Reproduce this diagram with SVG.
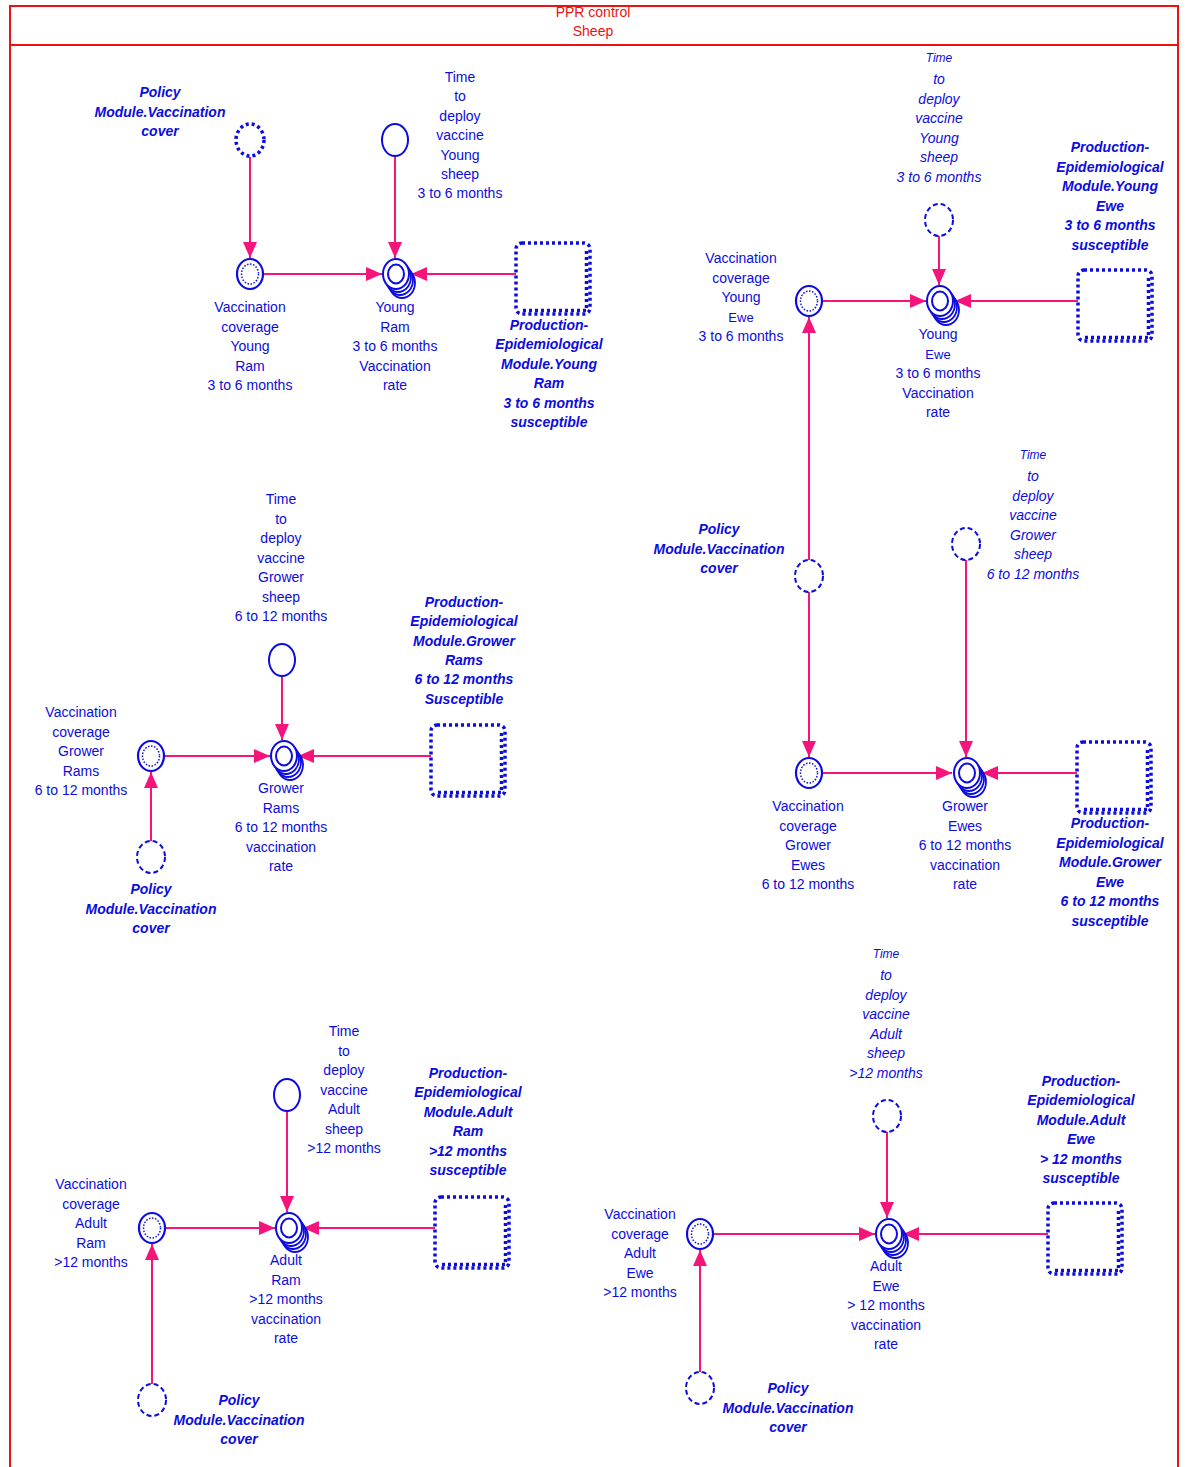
<svg xmlns="http://www.w3.org/2000/svg" xmlns:xlink="http://www.w3.org/1999/xlink" width="1186" height="1467" viewBox="0 0 1186 1467">
<style>
text{font-family:"Liberation Sans",Arial,sans-serif;font-size:14px;fill:#0c0ce0;text-anchor:middle}
.b{font-weight:bold;font-style:italic}
.i{font-style:italic}
.sm{font-size:12px}
.hdr{fill:#ee1111;font-size:14px}
.ln{stroke:#f5157a;stroke-width:2;fill:none;marker-end:url(#ah)}
.sh{stroke:#0c0ce0;fill:#fff}
</style>
<defs>
<marker id="ah" viewBox="0 0 16 14" refX="16" refY="7" markerWidth="16" markerHeight="14" markerUnits="userSpaceOnUse" orient="auto">
<path d="M0,0 L16,7 L0,14 z" fill="#f5157a"/>
</marker>
<g id="vc">
<ellipse class="sh" rx="13" ry="15" stroke-width="2.2"/>
<ellipse class="sh" rx="8.5" ry="10" stroke-width="1.5" stroke-dasharray="1.5 1.6"/>
</g>
<g id="rate">
<ellipse class="sh" cx="6" cy="9" rx="13" ry="15" stroke-width="1.8"/>
<ellipse class="sh" cx="4" cy="6" rx="13" ry="15" stroke-width="1.8"/>
<ellipse class="sh" cx="2" cy="3" rx="13" ry="15" stroke-width="1.8"/>
<ellipse class="sh" rx="13" ry="15" stroke-width="2"/>
<ellipse class="sh" rx="8" ry="9.5" stroke-width="2"/>
</g>
<g id="tsolid"><ellipse class="sh" rx="13" ry="16" stroke-width="2"/></g>
<g id="tdash"><ellipse class="sh" rx="14" ry="16" stroke-width="2" stroke-dasharray="5 3"/></g>
<g id="tdot"><ellipse class="sh" rx="14" ry="16" stroke-width="3.5" stroke-dasharray="3 3"/></g>
<g id="stock">
<rect x="0" y="0" width="74" height="71" rx="6" fill="#fff" stroke="#0c0ce0" stroke-width="3.5" stroke-dasharray="3 3"/>
<path d="M70.5,5 L70.5,67.5 L4,67.5" fill="none" stroke="#0c0ce0" stroke-width="3.5" stroke-dasharray="3 3" stroke-dashoffset="3"/>
</g>
</defs>

<g id="frame">
<rect x="10" y="6" width="1168" height="1475" fill="none" stroke="#ee1111" stroke-width="2"/>
<line x1="10" y1="45" x2="1178" y2="45" stroke="#ee1111" stroke-width="2"/>
<text class="hdr" x="593" y="17">PPR control</text>
<text class="hdr" x="593" y="36">Sheep</text>
</g>

<g id="connectors">
<path class="ln" d="M250,157 L250,258"/>
<path class="ln" d="M395,156 L395,258"/>
<path class="ln" d="M263,274 L382,274"/>
<path class="ln" d="M516,274 L411,274"/>

<path class="ln" d="M939,236 L939,285"/>
<path class="ln" d="M822,301 L926,301"/>
<path class="ln" d="M1078,301 L955,301"/>
<path class="ln" d="M809,560 L809,317"/>

<path class="ln" d="M809,592 L809,757"/>
<path class="ln" d="M966,560 L966,757"/>
<path class="ln" d="M822,773 L952,773"/>
<path class="ln" d="M1077,773 L982,773"/>

<path class="ln" d="M282,676 L282,740"/>
<path class="ln" d="M164,756 L270,756"/>
<path class="ln" d="M431,756 L298,756"/>
<path class="ln" d="M151,841 L151,772"/>

<path class="ln" d="M287,1111 L287,1212"/>
<path class="ln" d="M165,1228 L275,1228"/>
<path class="ln" d="M435,1228 L303,1228"/>
<path class="ln" d="M152,1384 L152,1244"/>

<path class="ln" d="M887,1132 L887,1218"/>
<path class="ln" d="M713,1234 L875,1234"/>
<path class="ln" d="M1048,1234 L903,1234"/>
<path class="ln" d="M700,1372 L700,1250"/>
</g>

<!-- Module: Young Ram -->
<g id="policy-young-ram">
<use xlink:href="#tdot" x="250" y="140"/>
<text class="b" x="160" y="97">Policy<tspan x="160" dy="19.5">Module.Vaccination</tspan><tspan x="160" dy="19.5">cover</tspan></text>
</g>
<g id="vc-young-ram">
<use xlink:href="#vc" x="250" y="274"/>
<text x="250" y="312">Vaccination<tspan x="250" dy="19.5">coverage</tspan><tspan x="250" dy="19.5">Young</tspan><tspan x="250" dy="19.5">Ram</tspan><tspan x="250" dy="19.5">3 to 6 months</tspan></text>
</g>
<g id="time-young-ram">
<use xlink:href="#tsolid" x="395" y="140"/>
<text x="460" y="82">Time<tspan x="460" dy="19.4">to</tspan><tspan x="460" dy="19.4">deploy</tspan><tspan x="460" dy="19.4">vaccine</tspan><tspan x="460" dy="19.4">Young</tspan><tspan x="460" dy="19.4">sheep</tspan><tspan x="460" dy="19.4">3 to 6 months</tspan></text>
</g>
<g id="rate-young-ram">
<use xlink:href="#rate" x="396" y="274"/>
<text x="395" y="312">Young<tspan x="395" dy="19.5">Ram</tspan><tspan x="395" dy="19.5">3 to 6 months</tspan><tspan x="395" dy="19.5">Vaccination</tspan><tspan x="395" dy="19.5">rate</tspan></text>
</g>
<g id="stock-young-ram">
<use xlink:href="#stock" x="516" y="243"/>
<text class="b" x="549" y="330">Production-<tspan x="549" dy="19.4">Epidemiological</tspan><tspan x="549" dy="19.4">Module.Young</tspan><tspan x="549" dy="19.4">Ram</tspan><tspan x="549" dy="19.4">3 to 6 months</tspan><tspan x="549" dy="19.4">susceptible</tspan></text>
</g>

<!-- Module: Young Ewe -->
<g id="time-young-ewe">
<use xlink:href="#tdash" x="939" y="220"/>
<text class="i sm" x="939" y="62">Time</text>
<text class="i" x="939" y="84">to<tspan x="939" dy="19.5">deploy</tspan><tspan x="939" dy="19.5">vaccine</tspan><tspan x="939" dy="19.5">Young</tspan><tspan x="939" dy="19.5">sheep</tspan><tspan x="939" dy="19.5">3 to 6 months</tspan></text>
</g>
<g id="vc-young-ewe">
<use xlink:href="#vc" x="809" y="301"/>
<text x="741" y="263">Vaccination<tspan x="741" dy="19.5">coverage</tspan><tspan x="741" dy="19.5">Young</tspan><tspan x="741" dy="19.5" font-size="13">Ewe</tspan><tspan x="741" dy="19.5">3 to 6 months</tspan></text>
</g>
<g id="rate-young-ewe">
<use xlink:href="#rate" x="940" y="301"/>
<text x="938" y="339">Young<tspan x="938" dy="19.5" font-size="13">Ewe</tspan><tspan x="938" dy="19.5">3 to 6 months</tspan><tspan x="938" dy="19.5">Vaccination</tspan><tspan x="938" dy="19.5">rate</tspan></text>
</g>
<g id="stock-young-ewe">
<use xlink:href="#stock" x="1078" y="270"/>
<text class="b" x="1110" y="152">Production-<tspan x="1110" dy="19.5">Epidemiological</tspan><tspan x="1110" dy="19.5">Module.Young</tspan><tspan x="1110" dy="19.5">Ewe</tspan><tspan x="1110" dy="19.5">3 to 6 months</tspan><tspan x="1110" dy="19.5">susceptible</tspan></text>
</g>
<g id="policy-ewe-shared">
<use xlink:href="#tdash" x="809" y="576"/>
<text class="b" x="719" y="534">Policy<tspan x="719" dy="19.5">Module.Vaccination</tspan><tspan x="719" dy="19.5">cover</tspan></text>
</g>

<!-- Module: Grower Ewes -->
<g id="time-grower-ewe">
<use xlink:href="#tdash" x="966" y="544"/>
<text class="i sm" x="1033" y="459">Time</text>
<text class="i" x="1033" y="481">to<tspan x="1033" dy="19.5">deploy</tspan><tspan x="1033" dy="19.5">vaccine</tspan><tspan x="1033" dy="19.5">Grower</tspan><tspan x="1033" dy="19.5">sheep</tspan><tspan x="1033" dy="19.5">6 to 12 months</tspan></text>
</g>
<g id="vc-grower-ewe">
<use xlink:href="#vc" x="809" y="773"/>
<text x="808" y="811">Vaccination<tspan x="808" dy="19.5">coverage</tspan><tspan x="808" dy="19.5">Grower</tspan><tspan x="808" dy="19.5">Ewes</tspan><tspan x="808" dy="19.5">6 to 12 months</tspan></text>
</g>
<g id="rate-grower-ewe">
<use xlink:href="#rate" x="967" y="773"/>
<text x="965" y="811">Grower<tspan x="965" dy="19.5">Ewes</tspan><tspan x="965" dy="19.5">6 to 12 months</tspan><tspan x="965" dy="19.5">vaccination</tspan><tspan x="965" dy="19.5">rate</tspan></text>
</g>
<g id="stock-grower-ewe">
<use xlink:href="#stock" x="1077" y="742"/>
<text class="b" x="1110" y="828">Production-<tspan x="1110" dy="19.5">Epidemiological</tspan><tspan x="1110" dy="19.5">Module.Grower</tspan><tspan x="1110" dy="19.5">Ewe</tspan><tspan x="1110" dy="19.5">6 to 12 months</tspan><tspan x="1110" dy="19.5">susceptible</tspan></text>
</g>

<!-- Module: Grower Rams -->
<g id="time-grower-ram">
<use xlink:href="#tsolid" x="282" y="660"/>
<text x="281" y="504">Time<tspan x="281" dy="19.5">to</tspan><tspan x="281" dy="19.5">deploy</tspan><tspan x="281" dy="19.5">vaccine</tspan><tspan x="281" dy="19.5">Grower</tspan><tspan x="281" dy="19.5">sheep</tspan><tspan x="281" dy="19.5">6 to 12 months</tspan></text>
</g>
<g id="vc-grower-ram">
<use xlink:href="#vc" x="151" y="756"/>
<text x="81" y="717">Vaccination<tspan x="81" dy="19.5">coverage</tspan><tspan x="81" dy="19.5">Grower</tspan><tspan x="81" dy="19.5">Rams</tspan><tspan x="81" dy="19.5">6 to 12 months</tspan></text>
</g>
<g id="rate-grower-ram">
<use xlink:href="#rate" x="284" y="756"/>
<text x="281" y="793">Grower<tspan x="281" dy="19.5">Rams</tspan><tspan x="281" dy="19.5">6 to 12 months</tspan><tspan x="281" dy="19.5">vaccination</tspan><tspan x="281" dy="19.5">rate</tspan></text>
</g>
<g id="stock-grower-ram">
<use xlink:href="#stock" x="431" y="725"/>
<text class="b" x="464" y="607">Production-<tspan x="464" dy="19.3">Epidemiological</tspan><tspan x="464" dy="19.3">Module.Grower</tspan><tspan x="464" dy="19.3">Rams</tspan><tspan x="464" dy="19.3">6 to 12 months</tspan><tspan x="464" dy="19.3">Susceptible</tspan></text>
</g>
<g id="policy-grower-ram">
<use xlink:href="#tdash" x="151" y="857"/>
<text class="b" x="151" y="894">Policy<tspan x="151" dy="19.5">Module.Vaccination</tspan><tspan x="151" dy="19.5">cover</tspan></text>
</g>

<!-- Module: Adult Ram -->
<g id="time-adult-ram">
<use xlink:href="#tsolid" x="287" y="1095"/>
<text x="344" y="1036">Time<tspan x="344" dy="19.5">to</tspan><tspan x="344" dy="19.5">deploy</tspan><tspan x="344" dy="19.5">vaccine</tspan><tspan x="344" dy="19.5">Adult</tspan><tspan x="344" dy="19.5">sheep</tspan><tspan x="344" dy="19.5">&gt;12 months</tspan></text>
</g>
<g id="vc-adult-ram">
<use xlink:href="#vc" x="152" y="1228"/>
<text x="91" y="1189">Vaccination<tspan x="91" dy="19.5">coverage</tspan><tspan x="91" dy="19.5">Adult</tspan><tspan x="91" dy="19.5">Ram</tspan><tspan x="91" dy="19.5">&gt;12 months</tspan></text>
</g>
<g id="rate-adult-ram">
<use xlink:href="#rate" x="289" y="1228"/>
<text x="286" y="1265">Adult<tspan x="286" dy="19.5">Ram</tspan><tspan x="286" dy="19.5">&gt;12 months</tspan><tspan x="286" dy="19.5">vaccination</tspan><tspan x="286" dy="19.5">rate</tspan></text>
</g>
<g id="stock-adult-ram">
<use xlink:href="#stock" x="435" y="1197"/>
<text class="b" x="468" y="1078">Production-<tspan x="468" dy="19.4">Epidemiological</tspan><tspan x="468" dy="19.4">Module.Adult</tspan><tspan x="468" dy="19.4">Ram</tspan><tspan x="468" dy="19.4">&gt;12 months</tspan><tspan x="468" dy="19.4">susceptible</tspan></text>
</g>
<g id="policy-adult-ram">
<use xlink:href="#tdash" x="152" y="1400"/>
<text class="b" x="239" y="1405">Policy<tspan x="239" dy="19.5">Module.Vaccination</tspan><tspan x="239" dy="19.5">cover</tspan></text>
</g>

<!-- Module: Adult Ewe -->
<g id="time-adult-ewe">
<use xlink:href="#tdash" x="887" y="1116"/>
<text class="i sm" x="886" y="958">Time</text>
<text class="i" x="886" y="980">to<tspan x="886" dy="19.5">deploy</tspan><tspan x="886" dy="19.5">vaccine</tspan><tspan x="886" dy="19.5">Adult</tspan><tspan x="886" dy="19.5">sheep</tspan><tspan x="886" dy="19.5">&gt;12 months</tspan></text>
</g>
<g id="vc-adult-ewe">
<use xlink:href="#vc" x="700" y="1234"/>
<text x="640" y="1219">Vaccination<tspan x="640" dy="19.5">coverage</tspan><tspan x="640" dy="19.5">Adult</tspan><tspan x="640" dy="19.5">Ewe</tspan><tspan x="640" dy="19.5">&gt;12 months</tspan></text>
</g>
<g id="rate-adult-ewe">
<use xlink:href="#rate" x="889" y="1234"/>
<text x="886" y="1271">Adult<tspan x="886" dy="19.5">Ewe</tspan><tspan x="886" dy="19.5">&gt; 12 months</tspan><tspan x="886" dy="19.5">vaccination</tspan><tspan x="886" dy="19.5">rate</tspan></text>
</g>
<g id="stock-adult-ewe">
<use xlink:href="#stock" x="1048" y="1203"/>
<text class="b" x="1081" y="1086">Production-<tspan x="1081" dy="19.4">Epidemiological</tspan><tspan x="1081" dy="19.4">Module.Adult</tspan><tspan x="1081" dy="19.4">Ewe</tspan><tspan x="1081" dy="19.4">&gt; 12 months</tspan><tspan x="1081" dy="19.4">susceptible</tspan></text>
</g>
<g id="policy-adult-ewe">
<use xlink:href="#tdash" x="700" y="1388"/>
<text class="b" x="788" y="1393">Policy<tspan x="788" dy="19.5">Module.Vaccination</tspan><tspan x="788" dy="19.5">cover</tspan></text>
</g>
</svg>
